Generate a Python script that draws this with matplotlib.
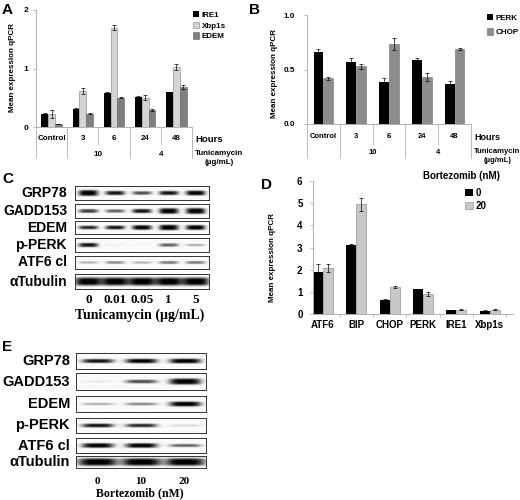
import numpy as np
import matplotlib.pyplot as plt

plt.rcParams['font.family'] = ['Liberation Sans', 'DejaVu Sans']
plt.rcParams['font.weight'] = 'bold'

# ---- panel A: qPCR, tunicamycin time course
a_hours = ['Control', '3', '6', '24', '48']
a_dose = ['10', '4']
a_ire1 = [0.23, 0.31, 0.58, 0.52, 0.59]
a_ire1_err = [0.01, 0.01, 0.01, 0.01, 0.01]
a_xbp1s = [0.22, 0.61, 1.70, 0.50, 1.02]
a_xbp1s_err = [0.07, 0.05, 0.04, 0.04, 0.05]
a_edem = [0.05, 0.23, 0.50, 0.29, 0.68]
a_edem_err = [0.005, 0.01, 0.01, 0.01, 0.03]

# ---- panel B
b_perk = [0.66, 0.57, 0.385, 0.585, 0.37]
b_perk_err = [0.03, 0.04, 0.04, 0.025, 0.02]
b_chop = [0.42, 0.53, 0.73, 0.43, 0.69]
b_chop_err = [0.015, 0.025, 0.055, 0.04, 0.01]

# ---- panel D: bortezomib
d_genes = ['ATF6', 'BIP', 'CHOP', 'PERK', 'IRE1', 'Xbp1s']
d_ctrl = [1.91, 3.10, 0.63, 1.13, 0.17, 0.14]
d_ctrl_err = [0.33, 0.08, 0.05, 0.02, 0.02, 0.02]
d_bz = [2.06, 4.95, 1.22, 0.90, 0.20, 0.19]
d_bz_err = [0.18, 0.30, 0.03, 0.10, 0.02, 0.02]

# ---- blots (band darkness per lane)
blot_proteins = ['GRP78', 'GADD153', 'EDEM', 'p-PERK', 'ATF6 cl', 'αTubulin']
c_lanes = ['0', '0.01', '0.05', '1', '5']
c_bands = [[1.0, 0.6, 0.45, 0.6, 0.75],
           [0.5, 0.4, 0.6, 0.95, 1.0],
           [0.55, 0.6, 0.8, 1.0, 0.85],
           [0.6, 0.04, 0.02, 0.4, 0.2],
           [0.2, 0.3, 0.2, 0.35, 0.35],
           [1.0, 1.0, 1.0, 1.0, 1.0]]
e_lanes = ['0', '10', '20']
e_bands = [[0.6, 0.7, 0.75],
           [0.05, 0.45, 1.0],
           [0.2, 0.3, 0.8],
           [0.6, 0.55, 0.1],
           [0.8, 0.8, 0.4],
           [1.0, 1.0, 1.0]]

W, H = 520, 500
fig = plt.figure(figsize=(W / 100, H / 100), dpi=100)
AX = '#b0b0b0'


def px_axes(left, top, width, height):
    return fig.add_axes([left / W, 1 - (top + height) / H, width / W, height / H])


def fx(x):
    return x / W


def fy(y):
    return 1 - y / H


def excel_style(ax, fs, pad):
    for s in ['top', 'right']:
        ax.spines[s].set_visible(False)
    for s in ['left', 'bottom']:
        ax.spines[s].set_color(AX)
        ax.spines[s].set_linewidth(0.7)
    ax.tick_params(axis='y', length=2.5, width=0.6, color=AX, labelsize=fs, pad=pad)
    ax.tick_params(axis='x', length=0)


def err(ax, x, v, e):
    ax.errorbar(x, v, yerr=e, fmt='none', ecolor='black', elinewidth=0.5,
                capsize=1.3, capthick=0.5)


def multilevel(ax, h_px, fs, row1, row2, long_, short_):
    tr = ax.get_xaxis_transform()
    n = len(a_hours)
    for i, lab in enumerate(a_hours):
        ax.text(i, -row1 / h_px, lab, transform=tr, ha='center', va='center', fontsize=fs)
    for j, lab in enumerate(a_dose):
        ax.text(1.5 + 2 * j, -row2 / h_px, lab, transform=tr, ha='center', va='center', fontsize=fs)
    for k in range(n + 1):
        xb = k - 0.5
        depth = long_ if k in (0, 1, 3, 5) else short_
        ax.plot([xb, xb], [0, -depth / h_px], transform=tr, color=AX, lw=0.6, clip_on=False)
    ax.text(n - 0.5 + 0.1, -row1 / h_px, 'Hours', transform=tr, ha='left', va='center', fontsize=fs + 1)
    ax.text(n - 0.5 + 0.1, -(row2 - 4) / h_px, 'Tunicamycin\n(µg/mL)', transform=tr, ha='left',
            va='top', fontsize=fs, multialignment='center', linespacing=1.5)


# ================= A =================
axA = px_axes(36, 10, 156, 117)
x = np.arange(len(a_hours))
bw = 0.22
axA.bar(x - bw, a_ire1, bw, color='black', label='IRE1')
axA.bar(x, a_xbp1s, bw, color='#d4d4d4', edgecolor='#808080', lw=0.4, label='Xbp1s')
axA.bar(x + bw, a_edem, bw, color='#7f7f7f', edgecolor='#606060', lw=0.4, label='EDEM')
err(axA, x - bw, a_ire1, a_ire1_err)
err(axA, x, a_xbp1s, a_xbp1s_err)
err(axA, x + bw, a_edem, a_edem_err)
axA.set_xlim(-0.5, 4.5)
axA.set_ylim(0, 2)
axA.set_yticks([0, 1, 2])
axA.set_xticks([])
excel_style(axA, 6, 3)
multilevel(axA, 117, 5.8, 12, 27, 31, 17)
axA.legend(loc='upper left', bbox_to_anchor=(fx(189), fy(7)), bbox_transform=fig.transFigure,
           frameon=False, fontsize=5.8, handlelength=0.8, handleheight=0.8,
           handletextpad=0.3, labelspacing=0.35, borderpad=0)
fig.text(fx(13), fy(68), 'Mean expression qPCR', rotation=90, ha='center', va='center', fontsize=5.8)
fig.text(fx(2), fy(3), 'A', fontsize=11, va='top', ha='left')

# ================= B =================
axB = px_axes(307, 15, 164, 109)
x = np.arange(len(a_hours))
bw = 0.3
axB.bar(x - bw / 2, b_perk, bw, color='black', label='PERK')
axB.bar(x + bw / 2, b_chop, bw, color='#8c8c8c', edgecolor='#707070', lw=0.4, label='CHOP')
err(axB, x - bw / 2, b_perk, b_perk_err)
err(axB, x + bw / 2, b_chop, b_chop_err)
axB.set_xlim(-0.5, 4.5)
axB.set_ylim(0, 1)
axB.set_yticks([0, 0.5, 1.0])
axB.set_yticklabels(['0.0', '0.5', '1.0'])
axB.set_xticks([])
excel_style(axB, 5.8, 6)
multilevel(axB, 109, 5.5, 13, 28, 34, 20)
axB.legend(loc='upper left', bbox_to_anchor=(fx(483), fy(10)), bbox_transform=fig.transFigure,
           frameon=False, fontsize=5.8, handlelength=0.8, handleheight=0.8,
           handletextpad=0.3, labelspacing=0.8, borderpad=0)
fig.text(fx(275), fy(74), 'Mean expression qPCR', rotation=90, ha='center', va='center', fontsize=5.8)
fig.text(fx(249), fy(3), 'B', fontsize=11, va='top', ha='left')

# ================= D =================
axD = px_axes(313, 181, 200, 133)
x = np.arange(len(d_genes))
bw = 0.3
axD.bar(x - bw / 2, d_ctrl, bw, color='black', label='0')
axD.bar(x + bw / 2, d_bz, bw, color='#c8c8c8', edgecolor='#808080', lw=0.4, label='20')
err(axD, x - bw / 2, d_ctrl, d_ctrl_err)
err(axD, x + bw / 2, d_bz, d_bz_err)
axD.set_xlim(-0.3, 5.7)
axD.set_ylim(0, 6)
axD.set_yticks(range(7))
axD.set_xticks(x)
axD.set_xticklabels(d_genes)
excel_style(axD, 7, 5)
axD.tick_params(axis='x', labelsize=7, pad=4)
axD.set_xticks(x + 0.5, minor=True)
axD.tick_params(axis='x', which='minor', length=2, width=0.6, color=AX)
axD.legend(loc='upper left', bbox_to_anchor=(fx(460), fy(183)), bbox_transform=fig.transFigure,
           frameon=False, fontsize=7, handlelength=0.8, handleheight=0.8,
           handletextpad=0.3, labelspacing=0.3, borderpad=0)
fig.text(fx(423), fy(176), 'Bortezomib (nM)', fontsize=7, ha='left', va='center')
fig.text(fx(273), fy(258), 'Mean expression qPCR', rotation=90, ha='center', va='center', fontsize=5.8)
fig.text(fx(261), fy(178), 'D', fontsize=11, va='top', ha='left')


# ================= blots =================
def blot(left, top, width, height, levels, band_w=0.36, thick=1.0):
    ax = px_axes(left, top, width, height)
    n = len(levels)
    xs = (np.arange(300) + 0.5) / 300 * n
    ys = np.linspace(-1, 1, 60)[:, None]
    img = np.full((60, 300), 0.02)
    for i, lv in enumerate(levels):
        hx = np.exp(-np.abs((xs - i - 0.5) / band_w) ** 4)
        sy = (0.12 + 0.3 * lv) * thick
        dark = min(1.0, 1.5 * lv)
        img += dark * hx[None, :] * np.exp(-np.abs(ys / sy) ** 4)
    ax.imshow(np.clip(img, 0, 1), cmap='gray_r', vmin=0, vmax=1, aspect='auto',
              interpolation='bilinear', extent=[0, n, -1, 1])
    ax.set_xticks([])
    ax.set_yticks([])
    for s in ax.spines.values():
        s.set_linewidth(0.7)
        s.set_color('#333333')
    return ax


c_tops = [186, 204, 221, 238, 256, 274]
c_h = [14, 14, 13, 14, 13, 15]
for prot, lv, t, h in zip(blot_proteins, c_bands, c_tops, c_h):
    tub = prot == 'αTubulin'
    blot(75, t, 134, h, lv, 0.5 if tub else 0.36, 1.3 if tub else 1.0)
    fig.text(fx(67), fy(t + h / 2), prot, fontsize=10, ha='right', va='center')
for i, lab in enumerate(c_lanes):
    fig.text(fx(75 + 134 * (i + 0.5) / len(c_lanes)), fy(300), lab, fontsize=9.5,
             family='Liberation Serif', ha='center', va='center')
fig.text(fx(140), fy(315), 'Tunicamycin (µg/mL)', fontsize=10, family='Liberation Serif',
         ha='center', va='center')
fig.text(fx(2), fy(172), 'C', fontsize=11, va='top', ha='left')

e_tops = [353, 373, 396, 418, 438, 456]
e_h = [16, 17, 16, 15, 15, 12]
for prot, lv, t, h in zip(blot_proteins, e_bands, e_tops, e_h):
    tub = prot == 'αTubulin'
    blot(76, t, 130, h, lv, 0.45 if tub else 0.36, 1.5 if tub else 0.85)
    fig.text(fx(70), fy(t + h / 2), prot, fontsize=10.5, ha='right', va='center')
for i, lab in enumerate(e_lanes):
    fig.text(fx(76 + 130 * (i + 0.5) / len(e_lanes)), fy(481), lab, fontsize=8,
             family='Liberation Serif', ha='center', va='center')
fig.text(fx(140), fy(493), 'Bortezomib (nM)', fontsize=8.5, family='Liberation Serif',
         ha='center', va='center')
fig.text(fx(2), fy(340), 'E', fontsize=11, va='top', ha='left')

fig.savefig('out.png', dpi=100)
